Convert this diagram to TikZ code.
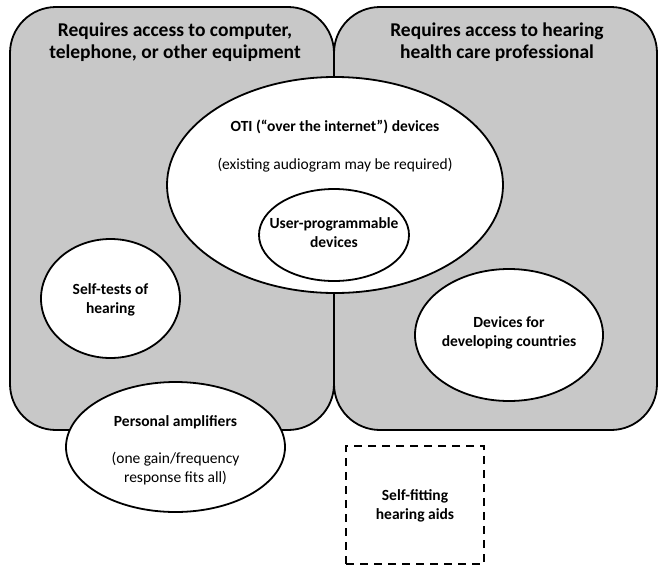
\documentclass[tikz,border=0pt]{standalone}
\usepackage{fontspec}
\setmainfont{Carlito}
\usetikzlibrary{shapes.geometric}
\definecolor{boxgray}{RGB}{200,200,200}
\tikzset{
  groupbox/.style={draw, line width=1.8pt, fill=boxgray, rounded corners=46pt, inner sep=0pt},
  blob/.style={draw, ellipse, line width=1.8pt, fill=white, inner sep=0pt},
  head/.style={font=\fontsize{19.5}{22}\selectfont\bfseries, align=center},
  lbl/.style={font=\fontsize{15.5}{19}\selectfont\bfseries, align=center},
  note/.style={font=\fontsize{15.5}{19}\selectfont, align=center},
}
\begin{document}
\begin{tikzpicture}[x=1pt, y=-1pt]
\useasboundingbox (0,0) rectangle (666,573);

% two groups
\node[groupbox, minimum width=324pt, minimum height=423pt] (computer) at (172,218.5){};
\node[groupbox, minimum width=323pt, minimum height=423pt] (professional) at (495.5,218.5){};
   \node[head] (computertitle) at (175,42.5){Requires access to computer,\\telephone, or other equipment};
   \node[head] (professionaltitle) at (497,42.5){Requires access to hearing\\health care professional};

% OTI devices
\node[blob, minimum width=336pt, minimum height=216pt] (oti) at (335,185){};
   \node[lbl] (otititle) at (335,127){OTI (“over the internet”) devices};
   \node[note] (otinote) at (335,165){(existing audiogram may be required)};
\node[blob, minimum width=150pt, minimum height=92pt] (userprog) at (334,235){};
   \node[lbl] (userprogtext) at (334,232.5){User-programmable\\devices};

% other categories
\node[blob, minimum width=139pt, minimum height=119pt] (selftest) at (110.5,298.5){};
   \node[lbl] (selftesttext) at (110.5,299.5){Self-tests of\\hearing};
\node[blob, minimum width=188pt, minimum height=132pt] (developing) at (509,335){};
   \node[lbl] (developingtext) at (509,333){Devices for\\developing countries};
\node[blob, minimum width=219pt, minimum height=130pt] (amplifier) at (175.5,447){};
   \node[lbl] (amplifiertitle) at (175.5,422){Personal amplifiers};
   \node[note] (amplifiernote) at (175.5,468.5){(one gain/frequency\\response fits all)};

% self-fitting
\node[draw, line width=1.8pt, dash pattern=on 8pt off 6pt, minimum width=138pt, minimum height=118pt] (selffit) at (415,505){};
   \node[lbl] (selffittext) at (415,505.5){Self-fitting\\hearing aids};

\end{tikzpicture}
\end{document}
